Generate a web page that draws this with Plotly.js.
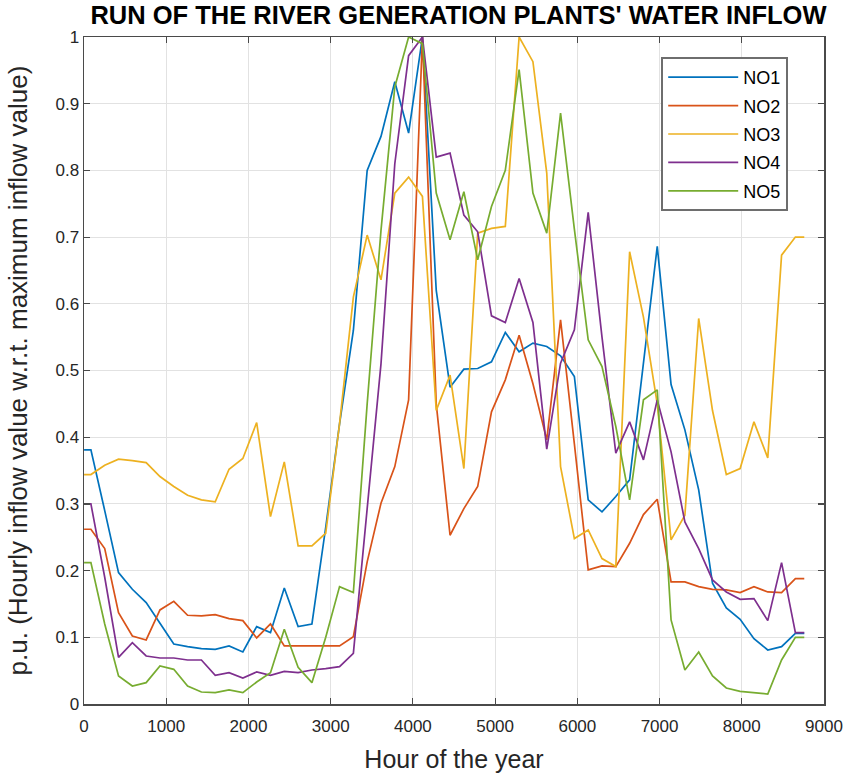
<!DOCTYPE html>
<html>
<head>
<meta charset="utf-8">
<script src="https://cdn.plot.ly/plotly-3.0.1.min.js"></script>
<style>html,body{margin:0;padding:0;background:#fff;}#chart{width:849px;height:781px;}</style>
</head>
<body>
<div id="chart"></div>
<script>
// Hour of the year for each sample
const hours = [1, 84, 252, 420, 588, 756, 924, 1092, 1260, 1428, 1596, 1764, 1932, 2100, 2268, 2436, 2604, 2772, 2940, 3108, 3276, 3444, 3612, 3780, 3948, 4116, 4284, 4452, 4620, 4788, 4956, 5124, 5292, 5460, 5628, 5796, 5964, 6132, 6300, 6468, 6636, 6804, 6972, 7140, 7308, 7476, 7644, 7812, 7980, 8148, 8316, 8484, 8652, 8760];

const no1 = [0.381, 0.381, 0.29, 0.197, 0.172, 0.152, 0.121, 0.090, 0.086, 0.083, 0.082, 0.087, 0.078, 0.116, 0.107, 0.174, 0.116, 0.120, 0.265, 0.42, 0.56, 0.80, 0.851, 0.933, 0.856, 1.0, 0.62, 0.475, 0.502, 0.503, 0.513, 0.557, 0.528, 0.541, 0.536, 0.522, 0.491, 0.306, 0.288, 0.311, 0.336, 0.51, 0.686, 0.479, 0.411, 0.321, 0.181, 0.144, 0.127, 0.098, 0.081, 0.086, 0.106, 0.106];

const no2 = [0.262, 0.262, 0.233, 0.137, 0.102, 0.096, 0.141, 0.154, 0.133, 0.132, 0.134, 0.128, 0.125, 0.099, 0.120, 0.087, 0.087, 0.087, 0.087, 0.087, 0.101, 0.213, 0.301, 0.356, 0.456, 1.0, 0.45, 0.253, 0.293, 0.326, 0.438, 0.486, 0.553, 0.48, 0.396, 0.576, 0.39, 0.201, 0.207, 0.206, 0.241, 0.284, 0.307, 0.183, 0.183, 0.176, 0.172, 0.171, 0.167, 0.176, 0.168, 0.167, 0.188, 0.188];

const no3 = [0.344, 0.344, 0.358, 0.367, 0.365, 0.362, 0.341, 0.326, 0.313, 0.306, 0.303, 0.352, 0.368, 0.422, 0.281, 0.363, 0.237, 0.237, 0.256, 0.42, 0.61, 0.703, 0.636, 0.766, 0.79, 0.761, 0.44, 0.493, 0.353, 0.706, 0.713, 0.716, 1.0, 0.963, 0.796, 0.356, 0.248, 0.261, 0.218, 0.206, 0.678, 0.58, 0.45, 0.246, 0.283, 0.578, 0.44, 0.344, 0.353, 0.423, 0.369, 0.673, 0.70, 0.70];

const no4 = [0.300, 0.300, 0.19, 0.070, 0.092, 0.072, 0.069, 0.069, 0.066, 0.066, 0.043, 0.047, 0.039, 0.048, 0.043, 0.049, 0.047, 0.051, 0.053, 0.056, 0.076, 0.29, 0.51, 0.81, 0.972, 1.0, 0.82, 0.826, 0.733, 0.708, 0.582, 0.572, 0.638, 0.572, 0.382, 0.511, 0.561, 0.737, 0.55, 0.376, 0.423, 0.366, 0.456, 0.378, 0.273, 0.233, 0.186, 0.168, 0.157, 0.158, 0.125, 0.212, 0.107, 0.107];

const no5 = [0.212, 0.212, 0.12, 0.042, 0.027, 0.032, 0.057, 0.052, 0.027, 0.018, 0.017, 0.021, 0.017, 0.033, 0.047, 0.112, 0.055, 0.032, 0.10, 0.176, 0.167, 0.45, 0.71, 0.925, 1.0, 0.99, 0.766, 0.696, 0.768, 0.666, 0.746, 0.80, 0.951, 0.766, 0.706, 0.886, 0.712, 0.546, 0.506, 0.416, 0.306, 0.456, 0.471, 0.126, 0.051, 0.078, 0.042, 0.024, 0.019, 0.017, 0.015, 0.066, 0.100, 0.100];

const seriesNames = ['NO1', 'NO2', 'NO3', 'NO4', 'NO5'];
const seriesValues = [no1, no2, no3, no4, no5];
const seriesColors = ['#0072BD', '#D95319', '#EDB120', '#7E2F8E', '#77AC30'];

const xTickVals = [0, 1000, 2000, 3000, 4000, 5000, 6000, 7000, 8000, 9000];
const yTickVals = [0, 0.1, 0.2, 0.3, 0.4, 0.5, 0.6, 0.7, 0.8, 0.9, 1];
const yTickText = ['0', '0.1', '0.2', '0.3', '0.4', '0.5', '0.6', '0.7', '0.8', '0.9', '1'];

const traces = seriesNames.map((n, i) => ({
  type: 'scatter', mode: 'lines', name: n, x: hours, y: seriesValues[i],
  legendgroup: n,
  line: {color: seriesColors[i], width: 1.7}
}));

const axisCommon = {
  showline: true, linecolor: '#4a4a4a', linewidth: 1.5, mirror: 'ticks',
  ticks: 'inside', ticklen: 6, tickwidth: 1.2, tickcolor: '#4a4a4a',
  showgrid: true, gridcolor: '#e2e2e2', gridwidth: 1, zeroline: false,
  tickfont: {family: 'Liberation Sans, Arial, sans-serif', size: 17, color: '#262626'}
};

const layout = {
  width: 849, height: 781,
  margin: {l: 84, r: 25, t: 37, b: 77},
  paper_bgcolor: '#fff', plot_bgcolor: '#fff',
  title: {text: "RUN OF THE RIVER GENERATION PLANTS' WATER INFLOW",
    font: {family: 'Liberation Sans, Arial, sans-serif', size: 25.5, color: '#000', weight: 'bold'},
    x: 0.54, xanchor: 'center', y: 0.981, yanchor: 'middle'},
  xaxis: Object.assign({}, axisCommon, {
    range: [0, 9000], tickvals: xTickVals, ticktext: xTickVals.map(String),
    ticklabelstandoff: 6,
    title: {text: 'Hour of the year', font: {family: 'Liberation Sans, Arial, sans-serif', size: 25, color: '#262626'}, standoff: 15}
  }),
  yaxis: Object.assign({}, axisCommon, {
    range: [0, 1], tickvals: yTickVals, ticktext: yTickText,
    title: {text: 'p.u. (Hourly inflow value w.r.t. maximum inflow value)', font: {family: 'Liberation Sans, Arial, sans-serif', size: 26, color: '#262626'}, standoff: 20}
  }),
  showlegend: true,
  legend: {x: 0.78, y: 0.97, xanchor: 'left', yanchor: 'top',
    bgcolor: '#fff', bordercolor: '#6e6e6e', borderwidth: 2,
    font: {family: 'Liberation Sans, Arial, sans-serif', size: 18, color: '#000'},
    itemwidth: 70,
    tracegroupgap: 2}
};

Plotly.newPlot('chart', traces, layout, {displayModeBar: false, staticPlot: true});
</script>
</body>
</html>
